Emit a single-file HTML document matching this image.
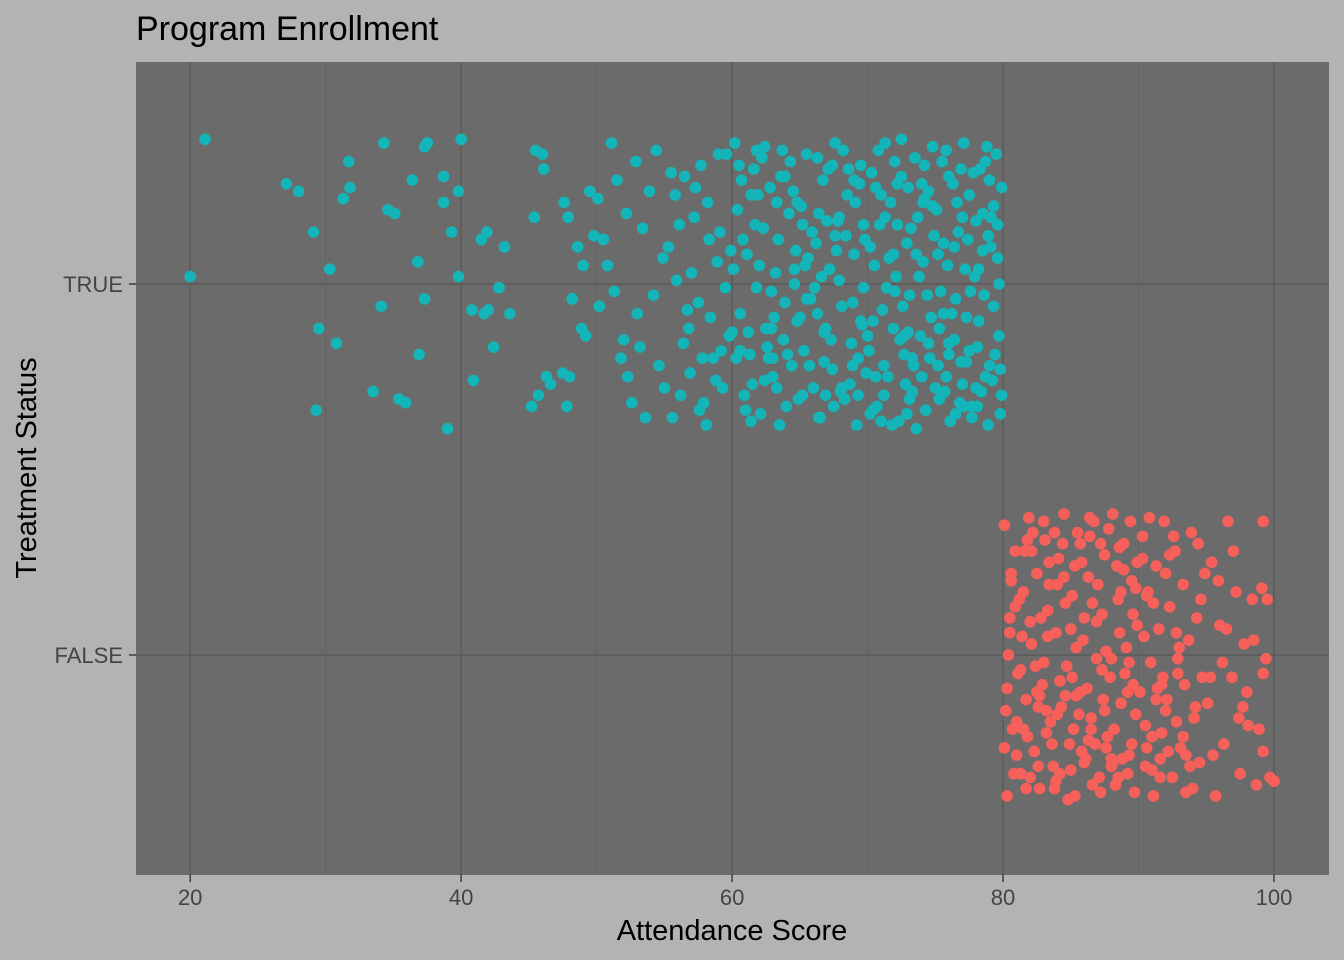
<!DOCTYPE html>
<html><head><meta charset="utf-8"><style>
html,body{margin:0;padding:0;background:#b3b3b3;}
svg{display:block;font-family:"Liberation Sans",sans-serif;}
</style></head><body>
<svg id="chart" width="1344" height="960">
<rect width="1344" height="960" fill="#b3b3b3"/>
<text x="136" y="40" font-size="34" fill="#000">Program Enrollment</text>
<rect x="136" y="62" width="1193" height="813" fill="#6b6b6b"/>
<g id="grid"></g>
<g id="points"></g>
<g id="axes"></g>
<text x="732" y="940" font-size="29" text-anchor="middle" fill="#000">Attendance Score</text>
<text transform="translate(36,468) rotate(-90)" font-size="29" text-anchor="middle" fill="#000">Treatment Status</text>
</svg>
<script>
const categories = ["FALSE","TRUE"];
const xTicks = [20,40,60,80,100];
const xMinor = [30,50,70,90];
const trueX = [21.1,20,27.1,28,29.1,30.3,31.7,31.8,31.3,34.3,34.6,35.1,36.4,37.5,37.3,38.7,39.8,40,38.7,39.3,41.9,41.5,43.2,36.8,39.8,42.8,40.8,41.7,42,43.6,34.1,37.3,29.5,30.8,36.9,42.4,40.9,33.5,35.4,35.9,29.3,39,
45.2,45.4,45.7,46.1,46.3,46.6,47.5,48,45.5,46,47.6,48.2,48.6,49.2,47.8,49,48.9,49.5,49.8,47.9,
50.2,50.5,51.1,51.5,52,52.3,52.6,53,53.4,53.9,54.2,54.6,50.8,51.8,52.9,53.6,54.9,51.3,52.2,50.1,54.4,53.2,55,
55.3,55.6,55.9,56.2,56.5,56.8,57.2,57.5,57.9,58.2,58.6,58.9,59.3,59.6,55.8,56.9,57.7,58.4,59.1,59.8,56.1,57,58.1,59.5,
60.2,60.4,60.6,60.9,61.1,61.3,61.6,61.8,62.1,62.3,62.5,62.8,63,63.2,63.5,63.7,63.9,64.2,64.4,64.7,64.9,60.3,60.8,61.4,61.9,62.4,62.9,63.4,63.8,64.3,64.8,60.7,61.2,62,62.7,63.3,64,64.6,61.7,63.1,
65.1,65.3,65.5,65.8,66,66.2,66.5,66.7,66.9,67.2,67.4,67.6,67.8,68.1,68.3,68.5,68.8,69,69.2,69.5,69.7,69.9,65.4,65.9,66.3,66.8,67.1,67.5,67.9,68.4,68.7,69.1,69.6,65.2,66.4,67.3,68.2,69.3,69.8,66.1,67.7,68.9,65.7,66.6,69.4,
70.1,70.3,70.5,70.7,70.9,71.1,71.3,71.5,71.7,71.9,72.1,72.3,72.5,72.7,72.9,73.1,73.3,73.5,73.7,73.9,74.1,74.3,74.5,74.7,74.9,70.2,70.6,71,71.4,71.8,72.2,72.6,73,73.4,73.8,74.2,74.6,70.4,71.2,72,72.8,73.6,74.4,70.8,71.6,72.4,73.2,74,74.8,72.9,
75.1,75.3,75.5,75.7,75.9,76.1,76.3,76.5,76.7,76.9,77.1,77.3,77.5,77.7,77.9,78.1,78.3,78.5,78.7,78.9,79.1,79.3,79.5,79.7,79.9,75.2,75.6,76,76.4,76.8,77.2,77.6,78,78.4,78.8,79.2,79.6,79.8,75.4,75.8,76.2,76.6,77,77.4,77.8,78.2,78.6,79,79.4,79.7,76,77.5,78.9,75.2,79.9,
56.4,57.3,58.8,59.9,60.5,61.5,62.6,63.6,64.5,65.6,66.9,67.6,68.6,69.5,70.4,71.3,72.2,73.3,74.2,75.3,76.4,77.3,78.2,79.3,
55.5,57.8,59.2,60.1,61,62.2,63.3,64.1,65,66.3,67,68,69,70,71,72,73,74,75,76,77,78,79,79.6,
56.7,58.3,60.6,61.8,62.9,64.6,65.5,66.8,67.9,69.3,70.6,71.9,73.1,74.5,75.8,76.9,78.1,79.1,
60,61.4,63,64.8,66.4,68.1,69.7,71.2,72.7,74.1,75.6,77.1,78.5,79.8,
62.4,65.2,67.4,70.2,72.5,74.8,76.5,78.7,57.6,59,63.9,68.9,73.6,77.7];
const trueJ = [39,2,27,25,14,4,33,26,23,38,20,19,28,38,37,29,25,39,22,14,14,12,10,6,2,-1,-7,-8,-7,-8,-6,-4,-12,-16,-19,-17,-26,-29,-31,-32,-34,-39,
-33,18,-30,31,-25,-27,-24,-25,36,35,22,-4,10,-14,-33,5,-12,25,13,18,
-6,12,38,28,-15,-25,-32,-8,15,25,-3,-22,5,-20,33,-36,7,-2,19,23,36,-17,-28,
10,-36,1,-30,29,-12,18,-5,-32,22,-20,6,-28,35,24,-24,32,-9,14,-14,16,3,-38,-1,
38,20,-8,-30,8,-19,31,-1,-35,15,-12,26,-25,3,-38,36,-5,19,-22,9,-31,-20,12,-37,24,-26,-2,12,-15,33,-10,28,-13,5,-20,22,-33,0,16,-9,
21,-18,35,-4,-28,11,-36,28,-12,4,-23,38,17,-6,-31,24,-16,8,-38,32,-1,-24,5,14,-8,-21,31,-33,1,13,-27,22,-11,-30,19,-15,36,-20,12,-1,9,-5,-22,2,27,
-18,30,5,-33,16,-7,38,-25,22,-12,2,-37,29,-19,11,-3,-29,34,18,-14,6,-34,25,-9,13,10,-25,24,-1,-38,16,-6,26,-22,2,32,-20,-10,-30,33,-27,8,-3,36,7,-15,15,-25,37,-35,
20,-12,33,-29,5,-37,27,-4,14,-21,38,-9,24,-33,2,-17,31,9,-25,-38,18,-6,35,-14,26,-22,11,29,-15,-32,4,-2,17,-29,37,-26,7,-35,-2,36,-8,22,-27,12,30,-10,-3,28,-19,0,-19,-18,13,8,-30,
-16,26,-26,9,32,-27,-17,29,25,7,-30,13,31,-10,-34,18,27,-20,23,-31,10,-21,4,21,
30,-20,-18,4,-34,34,-28,-19,-9,34,17,-29,28,-14,-37,-2,-13,27,-28,-16,18,-28,-22,16,
-7,12,-18,36,-12,4,-4,-13,18,-30,26,8,-31,-16,-25,31,-33,10,
-13,24,-20,22,-36,-28,16,-22,-14,22,-8,-33,19,-23,
37,16,32,-35,39,21,-35,33,-34,35,29,-22,-39,-36];
const falseX = [80.1,80.3,80.5,80.7,80.9,81.1,81.3,81.5,81.7,81.9,82.1,82.3,82.5,82.7,82.9,83.1,83.3,83.5,83.7,83.9,84.1,84.3,84.5,84.7,84.9,85.1,85.3,85.5,85.7,85.9,86.1,86.3,86.5,86.7,86.9,87.1,87.3,87.5,87.7,87.9,88.1,88.3,88.5,88.7,88.9,89.1,89.3,89.5,89.7,89.9,
80.2,80.6,81,81.4,81.8,82.2,82.6,83,83.4,83.8,84.2,84.6,85,85.4,85.8,86.2,86.6,87,87.4,87.8,88.2,88.6,89,89.4,89.8,80.4,81.2,82,82.8,83.6,84.4,85.2,86,86.8,87.6,88.4,89.2,80.8,81.6,82.4,83.2,84,84.8,85.6,86.4,87.2,88,88.8,89.6,
90.1,90.3,90.5,90.7,90.9,91.1,91.3,91.5,91.7,91.9,92.1,92.3,92.5,92.7,92.9,93.1,93.3,93.5,93.7,93.9,94.1,94.3,94.5,94.7,94.9,90.4,91,91.6,92.2,92.8,93.4,94,94.6,90.8,91.4,92,93,93.8,94.4,
95.1,95.4,95.7,96,96.3,96.6,96.9,97.2,97.5,97.8,98.1,98.4,98.7,99.2,99.2,99.5,99.2,99.7,100,95.5,96.2,97,98,98.9,99.4,95.9,97.4,99.1,98.5,
80.3,80.9,81.5,82.1,82.7,83.3,83.9,84.5,85.1,85.7,86.3,86.9,87.5,88.1,88.7,89.3,89.9,90.5,91.1,91.7,92.3,
80.6,81.3,82,82.6,83.2,83.8,84.6,85.3,86,86.6,87.3,88,88.6,89.2,89.8,90.6,91.3,92,92.8,93.5,
80.1,81,81.8,82.5,83.4,84.2,85,85.8,86.5,87.2,88,88.9,89.6,90.3,91,91.8,92.6,93.3,
80.5,81.7,83,84,85.4,86.4,87.6,88.5,89.5,90.6,91.6,92.9,94.2,95.3,96.5,97.7];
const falseJ = [35,-38,10,-20,28,-5,-32,17,-12,37,3,-26,22,-36,-8,31,12,-18,-30,6,26,-14,38,-3,-24,16,-38,33,-10,4,-28,21,-17,36,-1,-33,11,27,-22,-6,38,-35,15,-13,30,2,-27,20,-37,8,
-15,22,-27,5,-22,33,-14,-2,25,-36,-7,14,-31,2,25,-9,-35,19,-12,34,-20,6,-5,36,-16,0,15,-33,10,-24,30,-20,10,-24,1,24,-32,-32,28,-3,-15,19,-39,-16,32,-37,-1,-28,11,
-10,32,-30,17,-2,-38,24,7,-21,36,-12,13,-33,28,-5,-25,19,-37,4,33,-17,10,-29,-6,22,5,-22,-33,-26,-18,-8,-36,15,37,-9,22,2,-30,30,
-13,25,-38,8,-24,36,-6,17,-32,3,-19,15,-35,-5,36,15,-26,-33,-34,-27,-2,28,-10,-20,-1,20,-17,18,4,
-9,13,-20,28,-11,5,-34,21,-6,30,-23,9,-15,-29,17,-2,25,-19,14,-8,27,
20,-4,9,-30,-21,33,-11,24,-29,14,-4,-28,29,-10,18,-25,-12,-15,6,-27,
-25,-18,31,-10,19,-32,7,-26,-20,30,-30,23,-8,26,-31,-6,32,-22,
6,-36,36,-16,-11,37,-25,-33,-24,16,-28,-1,-14,-6,7,-14];

const X0 = 16.0, X1 = 104.06, PX0 = 136, PX1 = 1329;
const xScale = v => PX0 + (v - X0) / (X1 - X0) * (PX1 - PX0);
const yScale = c => 655 - c * 371;
const NS = "http://www.w3.org/2000/svg";
const grid = document.getElementById("grid");
const pts = document.getElementById("points");
const axes = document.getElementById("axes");
function mk(tag, attrs, parent){ const e=document.createElementNS(NS,tag); for(const k in attrs) e.setAttribute(k,attrs[k]); parent.appendChild(e); return e; }

xMinor.forEach(v=>{
  const l = mk("line",{x1:xScale(v),x2:xScale(v),y1:62,y2:875,stroke:"#626262","stroke-width":0.8},grid);
  
  
});
xTicks.forEach(v=>{
  const x = xScale(v);
  const l = mk("line",{x1:x,x2:x,y1:62,y2:875,stroke:"#5a5a5a","stroke-width":1.4},grid);
  
  
  const t = mk("line",{x1:x,x2:x,y1:875,y2:882,stroke:"#333","stroke-width":1.4},axes);
  
  
  const tx = mk("text",{x:x,y:905,"font-size":22,"text-anchor":"middle",fill:"#444"},axes);
  tx.textContent = v;
  
  
});
categories.forEach((c,i)=>{
  const y = yScale(i);
  const l = mk("line",{x1:136,x2:1329,y1:y,y2:y,stroke:"#5a5a5a","stroke-width":1.4},grid);
  
  
  const t = mk("line",{x1:129,x2:136,y1:y,y2:y,stroke:"#333","stroke-width":1.4},axes);
  
  
  const tx = mk("text",{x:123,y:y+8,"font-size":22,"text-anchor":"end",fill:"#444"},axes);
  tx.textContent = c;
  
  
});
trueX.forEach((v,i)=>{
  const p = mk("circle",{cx:xScale(v),cy:yScale(1 + trueJ[i]/100),r:5.8,fill:"#14b5b8"},pts);
  
  
});
falseX.forEach((v,i)=>{
  const p = mk("circle",{cx:xScale(v),cy:yScale(0 + falseJ[i]/100),r:5.8,fill:"#f5605a"},pts);
  
  
});
</script>
</body></html>
